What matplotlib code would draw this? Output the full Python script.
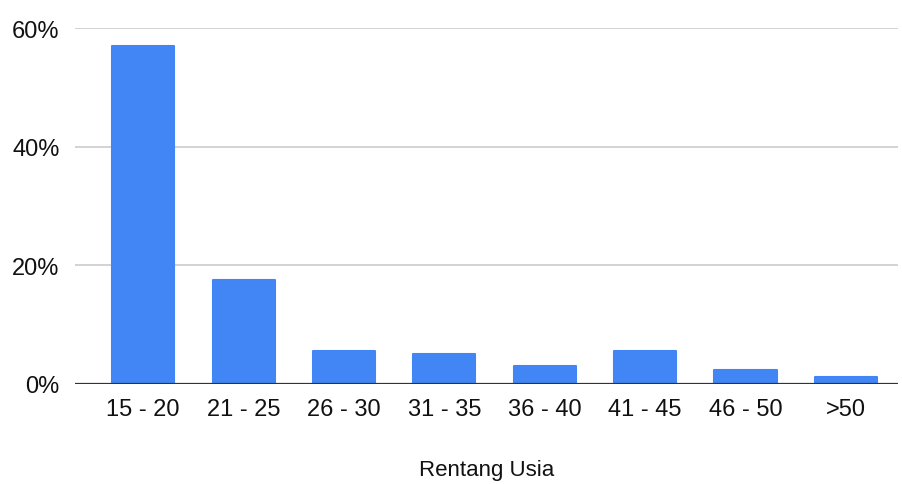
import matplotlib.pyplot as plt
from matplotlib.ticker import FuncFormatter

age_groups = ['15 - 20', '21 - 25', '26 - 30', '31 - 35', '36 - 40', '41 - 45', '46 - 50', '>50']
share_pct = [57.0, 17.5, 5.6, 5.0, 3.1, 5.6, 2.4, 1.1]

plt.rcParams['font.family'] = ['Liberation Sans', 'DejaVu Sans']

fig = plt.figure(figsize=(9.02, 4.85), dpi=100)
ax = fig.add_axes([75 / 902, 100 / 485, 823 / 902, 356 / 485])

x = range(len(age_groups))
ax.bar(x, share_pct, width=0.62, color='#4285F4', edgecolor='#4285F4',
       linewidth=1.5, joinstyle='round', zorder=3)

ax.set_xlim(-0.68, 7.52)
ax.set_ylim(0, 60)
ax.set_yticks([0, 20, 40, 60])
ax.yaxis.set_major_formatter(FuncFormatter(lambda v, _: f'{v:.0f}%'))
ax.set_xticks(list(x))
ax.set_xticklabels(age_groups)

ax.grid(axis='y', color='#cccccc', linewidth=1.2, zorder=0)
ax.axhline(0, color='#333333', linewidth=1.6, zorder=4)
for side in ['top', 'right', 'left', 'bottom']:
    ax.spines[side].set_visible(False)
ax.tick_params(axis='both', length=0, labelsize=17, colors='#111111')
ax.tick_params(axis='y', pad=11)
ax.tick_params(axis='x', pad=10)

ax.set_xlabel('Rentang Usia', fontsize=16, color='#111111', labelpad=28)

fig.savefig('out.png', dpi=100)
